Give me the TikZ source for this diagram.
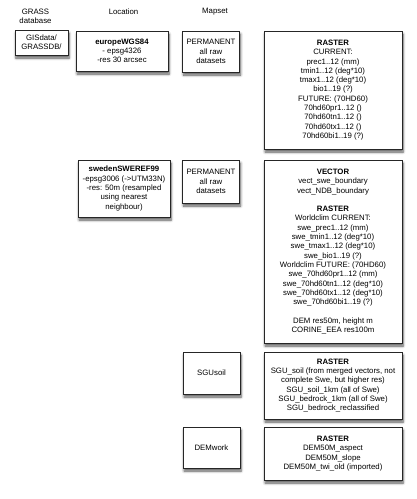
\documentclass[tikz,border=0pt]{standalone}
\usepackage{fontspec}
\setmainfont{Liberation Sans}
\usepackage{xcolor}
\colorlet{BOXCOLOR}{white}
\colorlet{LINECOLOR}{black!85}
\usepackage{tikz}
\usetikzlibrary{positioning,shadows.blur}
\tikzset{
  basic-style/.style = {
    rectangle, draw=LINECOLOR, line width=0.9pt,
    fill=BOXCOLOR,
    blur shadow={shadow xshift=1pt, shadow yshift=-3pt,
      shadow blur steps=6, shadow blur radius=2.5pt, shadow opacity=65},
    align=center,
    inner sep=1pt,
    font=\fontsize{7.8}{9.3}\selectfont
  },
  db-style/.style = {
    basic-style,
    minimum width=53pt, minimum height=#1
  },
  loc-style/.style = {
    basic-style,
    minimum width=92pt, minimum height=#1
  },
  mapset-style/.style = {
    basic-style,
    minimum width=57pt, minimum height=#1
  },
  data-style/.style = {
    basic-style,
    minimum width=138pt, minimum height=#1
  },
  head-style/.style = {
    align=center, inner sep=0pt,
    font=\fontsize{7.8}{9.3}\selectfont
  }
}
\newcommand\boxTitle[1]{\textbf{#1}}

\begin{document}
\begin{tikzpicture}[x=1pt,y=-1pt]
  \useasboundingbox (0,0) rectangle (416,499);

  % column heads
  \node[head-style] (grass) at (35.5,16.5) {GRASS\\database};
  \node[head-style] (location) at (123.5,12) {Location};
  \node[head-style] (mapset) at (215,12) {Mapset};

  % database
  \node[db-style=25pt] (gisdata) at (41.5,42.5) {GISdata/\\GRASSDB/};

  % europe location
  \node[loc-style=40pt] (europe) at (122,51) {\boxTitle{europeWGS84}\\- epsg4326\\-res 30 arcsec};
  \node[mapset-style=41pt] (permA) at (211,51.5) {PERMANENT\\all raw\\datasets};
  \node[data-style=118pt] (rasterA) at (333,90) {\boxTitle{RASTER}\\CURRENT:\\prec1..12 (mm)\\tmin1..12 (deg*10)\\tmax1..12 (deg*10)\\bio1..19 (?)\\FUTURE: (70HD60)\\70hd60pr1..12 ()\\70hd60tn1..12 ()\\70hd60tx1..12 ()\\70hd60bi1..19 (?)};

  % sweden location
  \node[loc-style=57pt] (sweden) at (124,188.5) {\boxTitle{swedenSWEREF99}\\-epsg3006 (->UTM33N)\\-res: 50m (resampled\\using nearest\\neighbour)};
  \node[mapset-style=43pt] (permB) at (211,181.5) {PERMANENT\\all raw\\datasets};
  \node[data-style=183pt] (vectorB) at (333,251.5) {\boxTitle{VECTOR}\\vect\_swe\_boundary\\vect\_NDB\_boundary\\[9.3pt]\boxTitle{RASTER}\\Worldclim CURRENT:\\swe\_prec1..12 (mm)\\swe\_tmin1..12 (deg*10)\\swe\_tmax1..12 (deg*10)\\swe\_bio1..19 (?)\\Worldclim FUTURE: (70HD60)\\swe\_70hd60pr1..12 (mm)\\swe\_70hd60tn1..12 (deg*10)\\swe\_70hd60tx1..12 (deg*10)\\swe\_70hd60bi1..19 (?)\\[9.3pt]DEM res50m, height m\\CORINE\_EEA res100m};

  \node[mapset-style=42pt] (sgusoil) at (211.5,373) {SGUsoil};
  \node[data-style=67pt] (rasterSgu) at (333,385.5) {\boxTitle{RASTER}\\SGU\_soil (from merged vectors, not\\complete Swe, but higher res)\\SGU\_soil\_1km (all of Swe)\\SGU\_bedrock\_1km (all of Swe)\\SGU\_bedrock\_reclassified};

  \node[mapset-style=41pt] (demwork) at (211.5,447.5) {DEMwork};
  \node[data-style=53pt] (rasterDem) at (333,453.5) {\boxTitle{RASTER}\\DEM50M\_aspect\\DEM50M\_slope\\DEM50M\_twi\_old (imported)};
\end{tikzpicture}
\end{document}
